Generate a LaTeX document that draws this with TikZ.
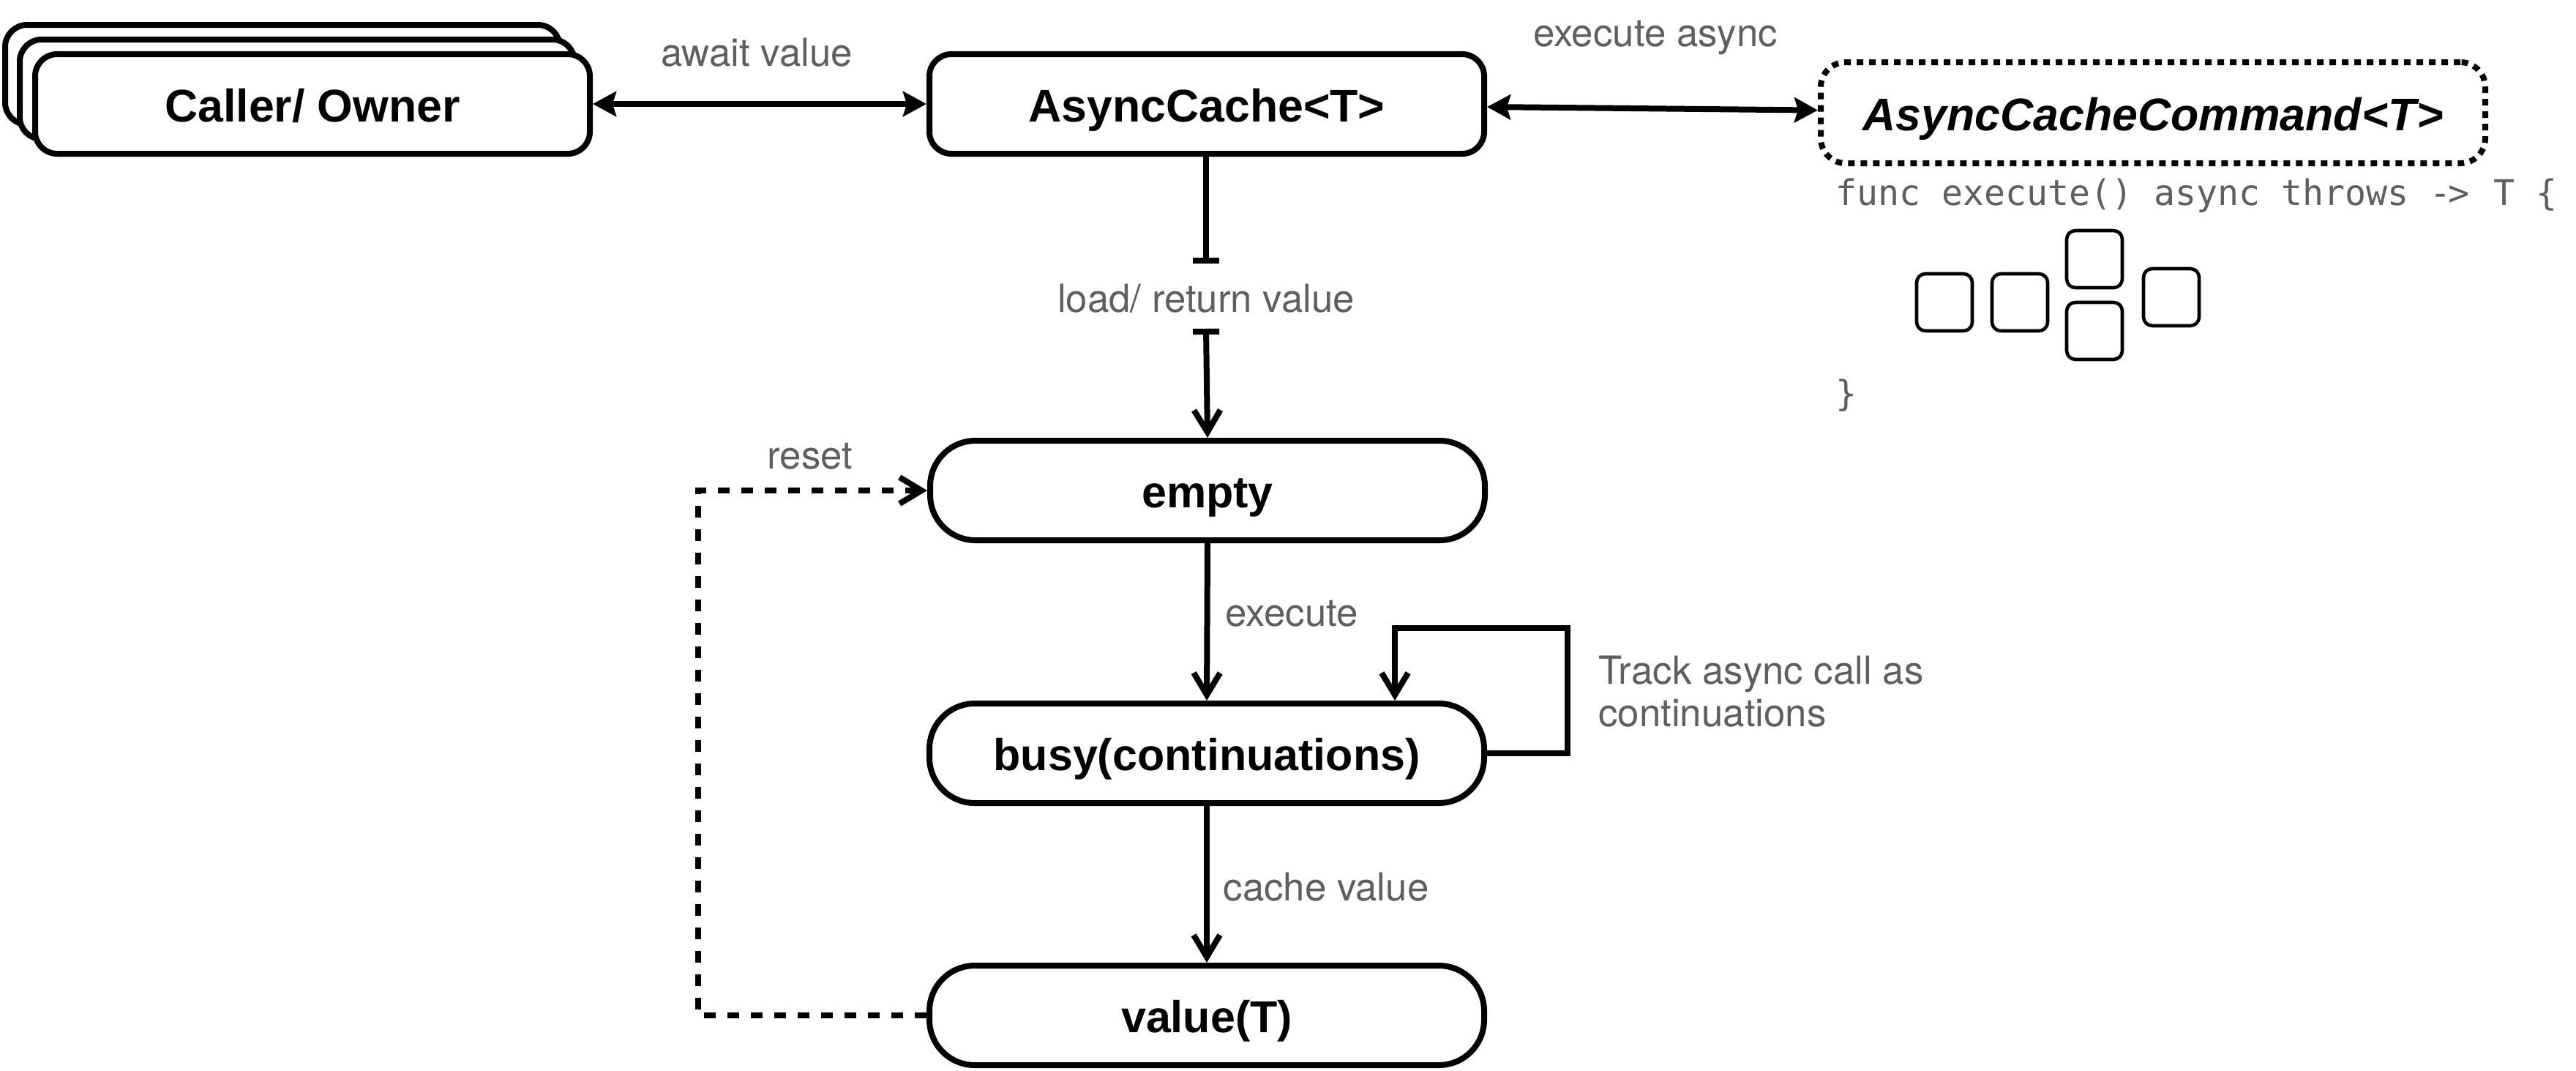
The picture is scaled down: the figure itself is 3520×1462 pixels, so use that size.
\documentclass[tikz,border=0pt]{standalone}
\usepackage{fontspec}
\setmainfont{TeX Gyre Heros}
\newfontfamily\boxfont{Liberation Sans}
\newfontfamily\codefont{DejaVu Sans Mono}
\usetikzlibrary{arrows.meta}
\definecolor{labelgray}{HTML}{5F5F5F}
\tikzset{
  x=0.5pt,y=-0.5pt,
  conn/.style={line width=4pt,black},
  solidhead/.tip={Stealth[length=16pt,width=17pt,inset=2.5pt]},
  openhead/.tip={Straight Barb[length=15pt,width=18pt,line width=4pt]},
  barhead/.tip={Bar[width=18pt,length=4pt]},
  rbox/.style={draw=black,fill=white,line width=4pt,rounded corners=15pt,minimum width=379pt,minimum height=68pt,inner sep=0pt,text height=24pt,text depth=0pt,font=\boxfont\bfseries\fontsize{31.3}{36}\selectfont},
  statebox/.style={rbox,rounded corners=31pt,text height=23pt,font=\boxfont\bfseries\fontsize{30.5}{36}\selectfont},
  cmdbox/.style={rbox,minimum width=454pt,minimum height=69pt,rounded corners=17pt,dash pattern=on 4.5pt off 4pt,font=\boxfont\bfseries\itshape\fontsize{31.3}{36}\selectfont},
  smallbox/.style={draw=black,fill=white,line width=2.3pt,rounded corners=6pt,minimum width=38pt,minimum height=39pt,inner sep=0pt},
  lbl/.style={text=labelgray,inner sep=0pt,font=\fontsize{26.4}{29}\selectfont},
  code/.style={text=labelgray,inner sep=0pt,anchor=west,font=\codefont\fontsize{24.1}{28}\selectfont},
}
\begin{document}
\begin{tikzpicture}
\useasboundingbox (0,0) rectangle (3520,1462);
\fill[white] (0,0) rectangle (3520,1462);
% stacked caller boxes
\node[rbox] (back) at (386,102) {};
\node[rbox] (mid) at (406,122) {};
\node[rbox] (caller) at (427,142) {Caller/ Owner};
\node[rbox] (cache) at (1649,142) {AsyncCache<T>};
\node[cmdbox] (cmd) at (2942,154) {AsyncCacheCommand<T>};
% states
\node[statebox] (empty) at (1650,670) {empty};
\node[statebox] (busy) at (1649,1029) {busy(continuations)};
\node[statebox] (value) at (1649,1387) {value(T)};
% code
\node[code] (func) at (2508,267) {func execute() async throws -\kern-2pt>\kern2pt{} T \{};
\node[code] (close) at (2508,540) {\}};
\node[smallbox] (s1) at (2657,413) {};
\node[smallbox] (s2) at (2760,413) {};
\node[smallbox] (s3) at (2862,354) {};
\node[smallbox] (s4) at (2862,452) {};
\node[smallbox] (s5) at (2967,406) {};
% labels
\node[lbl] (lawait) at (1034,72) {await value};
\node[lbl] (lasync) at (2262,52) {execute async};
\node[lbl] (lload) at (1648,408) {load/ return value};
\node[lbl] (lreset) at (1107,623) {reset};
\node[lbl] (lexec) at (1765,838) {execute};
\node[lbl] (lcachev) at (1812,1212) {cache value};
\node[lbl,anchor=north west,align=left] (ltrack) at (2184,896) {Track async call as\\continuations};
% connectors
\draw[conn,{solidhead}-{solidhead}] (caller.east) -- (cache.west);
\draw[conn,{solidhead}-{solidhead}] ([yshift=-2pt]cache.east) -- ([yshift=1.7pt]cmd.west);
\coordinate (barA) at (1648,360);
\coordinate (barB) at (1648,449);
\draw[conn,-{barhead}] (cache.south -| barA) -- (barA);
\draw[conn,{barhead}-{openhead}] (barB) -- (empty.north);
\draw[conn,-{openhead}] (empty.south) -- (busy.north);
\draw[conn,-{openhead}] (busy.south) -- (value.north);
\coordinate (loopA) at (2142,1029);
\coordinate (loopB) at (2142,858);
\coordinate (loopC) at (1906,858);
\draw[conn,miter limit=10,-{openhead}] (busy.east) -- (loopA) -- (loopB) -- (loopC) -- (loopC |- busy.north);
\coordinate (resetA) at (954,1387);
\draw[conn,dash pattern=on 8pt off 8pt,-{openhead}] (value.west) -- (resetA) -- (resetA |- empty.west) -- (empty.west);
\end{tikzpicture}
\end{document}
